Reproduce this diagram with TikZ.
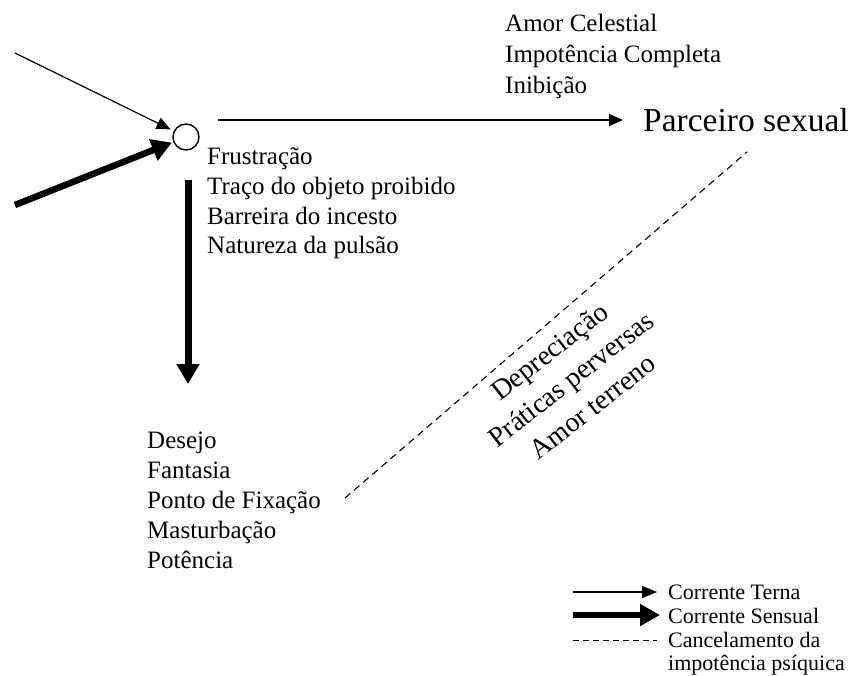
\documentclass[tikz,border=0pt]{standalone}
\usepackage{fontspec}
\setmainfont{Liberation Serif}
\usetikzlibrary{arrows.meta}
\begin{document}
\begin{tikzpicture}[x=1pt,y=-1pt,
  txt/.style={anchor=base west, inner sep=0pt, font=\fontsize{25}{30}\selectfont},
  legtxt/.style={anchor=base west, inner sep=0pt, font=\fontsize{22}{24}\selectfont},
  thinarrow/.style={line width=1.2pt, -{Triangle[length=14pt,width=12pt]}},
  thickarrow/.style={line width=6.5pt, -{Triangle[length=20pt,width=22pt]}},
  cancel/.style={line width=1.1pt, dash pattern=on 7pt off 5pt},
  legcancel/.style={line width=1pt, dash pattern=on 5.5pt off 4.5pt},
]
\useasboundingbox (0,0) rectangle (851,675);

% central circle
\node[circle, draw, line width=1.4pt, minimum size=26pt, inner sep=0pt] (c) at (186,137) {};

% incoming arrows
\coordinate (t0) at (15,53);
\coordinate (s0) at (15,205);
\draw[thinarrow, shorten >=3.5pt] (t0) -- (c);
\draw[thickarrow, shorten >=1.5pt] (s0) -- (c);

% Parceiro sexual
\node[anchor=base west, inner sep=0pt, font=\fontsize{33.5}{38}\selectfont] (p) at (643,131) {Parceiro sexual};
\coordinate (h0) at (218,120);
\coordinate (h1) at (623,120);
\draw[thinarrow] (h0) -- (h1);

% top labels
\node[txt] (a1) at (505,31) {Amor Celestial};
\node[txt] (a2) at (505,62) {Impotência Completa};
\node[txt] (a3) at (505,93) {Inibição};

% labels below circle
\node[txt] (f1) at (207,164) {Frustração};
\node[txt] (f2) at (207,194) {Traço do objeto proibido};
\node[txt] (f3) at (207,224) {Barreira do incesto};
\node[txt] (f4) at (207,253) {Natureza da pulsão};

% vertical thick arrow
\coordinate (v0) at (188,180);
\coordinate (v1) at (188,384);
\draw[thickarrow, line width=7pt] (v0) -- (v1);

% bottom list
\node[txt] (d1) at (147,448) {Desejo};
\node[txt] (d2) at (147,478) {Fantasia};
\node[txt] (d3) at (147,508) {Ponto de Fixação};
\node[txt] (d4) at (147,538) {Masturbação};
\node[txt] (d5) at (147,568) {Potência};

% dashed cancel line
\coordinate (k0) at (345,498);
\coordinate (k1) at (747,152);
\draw[cancel] (k0) -- (k1);

% rotated labels
\node[rotate=38, align=center, inner sep=0pt, font=\fontsize{28}{35}\selectfont] (r) at (571,379)
  {Depreciação\\Práticas perversas\\Amor terreno};

% legend
\coordinate (L1a) at (573,592); \coordinate (L1b) at (657,592);
\coordinate (L2a) at (573,615); \coordinate (L2b) at (660,615);
\coordinate (L3a) at (573,640); \coordinate (L3b) at (657,640);
\draw[line width=1.2pt, -{Triangle[length=15pt,width=12pt]}] (L1a) -- (L1b);
\draw[line width=6.5pt, -{Triangle[length=20pt,width=21pt]}] (L2a) -- (L2b);
\draw[legcancel] (L3a) -- (L3b);
\node[legtxt] (l1) at (668,599) {Corrente Terna};
\node[legtxt] (l2) at (668,623) {Corrente Sensual};
\node[legtxt] (l3) at (668,647) {Cancelamento da};
\node[legtxt] (l4) at (668,670) {impotência psíquica};
\end{tikzpicture}
\end{document}
